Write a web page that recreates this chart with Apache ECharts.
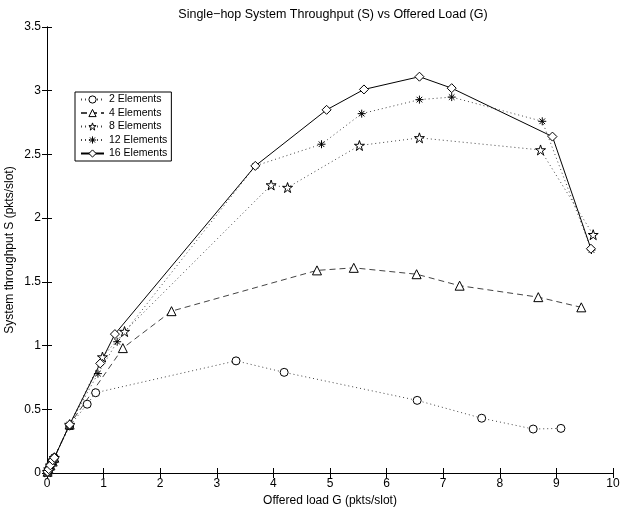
<!DOCTYPE html>
<html>
<head>
<meta charset="utf-8">
<script src="https://cdn.jsdelivr.net/npm/echarts@6/dist/echarts.min.js"></script>
<style>
  html, body { margin: 0; padding: 0; background: #fff; }
  #chart { width: 621px; height: 508px; }
</style>
</head>
<body>
<div id="chart"></div>
<script>
// values, [G, S]
const elements2 = [[0.01, 0.01], [0.03, 0.03], [0.06, 0.06], [0.1, 0.09], [0.13, 0.12], [0.4, 0.37], [0.71, 0.54], [0.86, 0.63], [3.34, 0.88], [4.19, 0.79], [6.54, 0.57], [7.68, 0.43], [8.59, 0.345], [9.08, 0.35]];
const elements4 = [[0.01, 0.01], [0.03, 0.03], [0.06, 0.06], [0.1, 0.09], [0.13, 0.12], [0.4, 0.38], [1.34, 0.98], [2.2, 1.27], [4.77, 1.59], [5.42, 1.61], [6.53, 1.56], [7.29, 1.47], [8.68, 1.38], [9.44, 1.3]];
const elements8 = [[0.01, 0.01], [0.03, 0.03], [0.06, 0.06], [0.1, 0.1], [0.13, 0.12], [0.4, 0.38], [0.98, 0.91], [1.37, 1.11], [3.96, 2.26], [4.25, 2.24], [5.52, 2.57], [6.58, 2.63], [8.72, 2.535], [9.65, 1.87]];
const elements12 = [[0.01, 0.01], [0.03, 0.03], [0.06, 0.06], [0.1, 0.1], [0.13, 0.12], [0.4, 0.38], [0.9, 0.78], [1.24, 1.03], [3.68, 2.41], [4.85, 2.58], [5.56, 2.82], [6.58, 2.93], [7.15, 2.95], [8.75, 2.76], [9.62, 1.75]];
const elements16 = [[0.01, 0.01], [0.03, 0.03], [0.06, 0.06], [0.1, 0.1], [0.13, 0.12], [0.4, 0.38], [0.94, 0.86], [1.2, 1.09], [3.68, 2.41], [4.94, 2.85], [5.6, 3.01], [6.58, 3.11], [7.15, 3.02], [8.93, 2.64], [9.61, 1.76]];

const xTicks = [0, 1, 2, 3, 4, 5, 6, 7, 8, 9, 10];
const yTicks = [0, 0.5, 1, 1.5, 2, 2.5, 3, 3.5];

const STAR = 'path://M5,0 L6.2,3.6 L10,3.6 L6.9,5.8 L8.1,9.5 L5,7.2 L1.9,9.5 L3.1,5.8 L0,3.6 L3.8,3.6 Z';
const ASTER = 'path://M0,5 L10,5 M5,0 L5,10 M1.5,1.5 L8.5,8.5 M8.5,1.5 L1.5,8.5';

const font = 'Liberation Sans, Arial, sans-serif';
const markStyle = { color: '#fff', borderColor: '#000', borderWidth: 1 };

const makeSeries = (name, data, symbol, size, lineType) => ({
  name,
  type: 'line',
  data,
  symbol,
  symbolSize: size,
  showAllSymbol: true,
  itemStyle: markStyle,
  lineStyle: {
    color: lineType === 'solid' ? '#000' : '#444',
    width: 1,
    type: lineType,
  },
  emphasis: { disabled: true },
  animation: false,
});

const chart = echarts.init(document.getElementById('chart'));

chart.setOption({
  backgroundColor: '#fff',
  title: {
    text: 'Single\u2212hop System Throughput (S) vs Offered Load (G)',
    left: 328,
    textAlign: 'center',
    top: 3,
    textStyle: { fontFamily: font, fontSize: 12.5, fontWeight: 'normal', color: '#000' },
  },
  grid: { left: 47, right: 8, top: 27, bottom: 35, containLabel: false, outerBoundsMode: 'none' },
  legend: {
    orient: 'vertical',
    left: 75,
    top: 92,
    itemWidth: 23,
    itemHeight: 9,
    itemGap: 2.5,
    padding: [2, 4, 2, 5],
    borderColor: '#000',
    borderWidth: 1,
    borderRadius: 0,
    backgroundColor: '#fff',
    itemStyle: markStyle,
    textStyle: { fontFamily: font, fontSize: 10.5, color: '#000', lineHeight: 10 },
    data: ['2 Elements', '4 Elements', '8 Elements', '12 Elements', '16 Elements'],
  },
  xAxis: [
    {
      type: 'value',
      min: xTicks[0],
      max: xTicks[xTicks.length - 1],
      interval: 1,
      name: 'Offered load G (pkts/slot)',
      nameLocation: 'middle',
      nameGap: 22,
      nameMoveOverlap: false,
      nameTextStyle: { fontFamily: font, fontSize: 12, color: '#000' },
      axisLine: { lineStyle: { color: '#000', width: 1 } },
      axisTick: { inside: true, length: 5, lineStyle: { color: '#000' } },
      axisLabel: { fontFamily: font, fontSize: 12, color: '#000', margin: 5 },
      splitLine: { show: false },
    },
    {
      type: 'value',
      position: 'top',
      min: xTicks[0],
      max: xTicks[xTicks.length - 1],
      interval: 1,
      axisLine: { lineStyle: { color: '#000', width: 1 } },
      axisTick: { inside: true, length: 5, lineStyle: { color: '#000' } },
      axisLabel: { show: false },
      splitLine: { show: false },
    },
  ],
  yAxis: [
    {
      type: 'value',
      min: yTicks[0],
      max: yTicks[yTicks.length - 1],
      interval: 0.5,
      name: 'System throughput S (pkts/slot)',
      nameLocation: 'middle',
      nameGap: 31,
      nameMoveOverlap: false,
      nameTextStyle: { fontFamily: font, fontSize: 12, color: '#000' },
      axisLine: { show: true, lineStyle: { color: '#000', width: 1 } },
      axisTick: { show: true, inside: true, length: 5, lineStyle: { color: '#000' } },
      axisLabel: { fontFamily: font, fontSize: 12, color: '#000', margin: 6 },
      splitLine: { show: false },
    },
    {
      type: 'value',
      position: 'right',
      min: yTicks[0],
      max: yTicks[yTicks.length - 1],
      interval: 0.5,
      axisLine: { show: true, lineStyle: { color: '#000', width: 1 } },
      axisTick: { show: true, inside: true, length: 5, lineStyle: { color: '#000' } },
      axisLabel: { show: false },
      splitLine: { show: false },
    },
  ],
  series: [
    makeSeries('2 Elements', elements2, 'circle', 8, [1, 3]),
    makeSeries('4 Elements', elements4, 'triangle', 9, [6, 4]),
    makeSeries('8 Elements', elements8, STAR, 10, [1, 3]),
    makeSeries('12 Elements', elements12, ASTER, 8, [1, 3]),
    makeSeries('16 Elements', elements16, 'diamond', 9, 'solid'),
  ],
});
</script>
</body>
</html>
